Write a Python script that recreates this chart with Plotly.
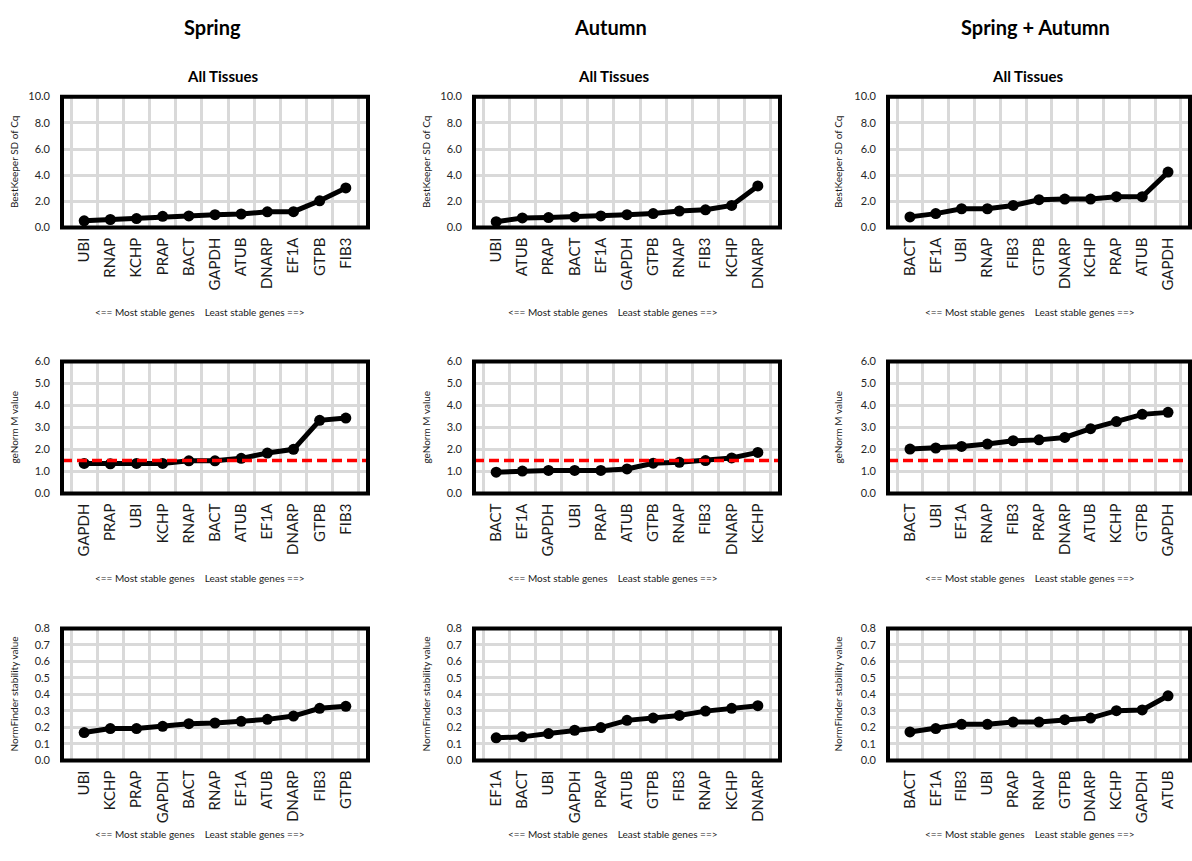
import plotly.graph_objects as go

W, H = 1192, 861

# ---------------- data ----------------
season_titles = ["Spring", "Autumn", "Spring + Autumn"]
subtitle = "All Tissues"

bk_spring_genes = ["UBI", "RNAP", "KCHP", "PRAP", "BACT", "GAPDH", "ATUB", "DNARP", "EF1A", "GTPB", "FIB3"]
bk_spring_vals = [0.52, 0.62, 0.69, 0.86, 0.89, 0.99, 1.04, 1.21, 1.22, 2.05, 3.03]

bk_autumn_genes = ["UBI", "ATUB", "PRAP", "BACT", "EF1A", "GAPDH", "GTPB", "RNAP", "FIB3", "KCHP", "DNARP"]
bk_autumn_vals = [0.45, 0.74, 0.77, 0.82, 0.89, 0.99, 1.07, 1.27, 1.36, 1.69, 3.18]

bk_both_genes = ["BACT", "EF1A", "UBI", "RNAP", "FIB3", "GTPB", "DNARP", "KCHP", "PRAP", "ATUB", "GAPDH"]
bk_both_vals = [0.82, 1.07, 1.44, 1.44, 1.69, 2.13, 2.18, 2.18, 2.36, 2.36, 4.24]

gn_spring_genes = ["GAPDH", "PRAP", "UBI", "KCHP", "RNAP", "BACT", "ATUB", "EF1A", "DNARP", "GTPB", "FIB3"]
gn_spring_vals = [1.37, 1.35, 1.37, 1.37, 1.49, 1.49, 1.60, 1.84, 2.01, 3.33, 3.43]

gn_autumn_genes = ["BACT", "EF1A", "GAPDH", "UBI", "PRAP", "ATUB", "GTPB", "RNAP", "FIB3", "DNARP", "KCHP"]
gn_autumn_vals = [0.97, 1.02, 1.05, 1.05, 1.05, 1.12, 1.38, 1.42, 1.50, 1.62, 1.87]

gn_both_genes = ["BACT", "UBI", "EF1A", "RNAP", "FIB3", "PRAP", "DNARP", "ATUB", "KCHP", "GTPB", "GAPDH"]
gn_both_vals = [2.02, 2.07, 2.14, 2.25, 2.40, 2.44, 2.55, 2.95, 3.27, 3.60, 3.69]

gn_threshold = 1.5

nf_spring_genes = ["UBI", "KCHP", "PRAP", "GAPDH", "BACT", "RNAP", "EF1A", "ATUB", "DNARP", "FIB3", "GTPB"]
nf_spring_vals = [0.169, 0.193, 0.193, 0.207, 0.223, 0.227, 0.237, 0.249, 0.269, 0.316, 0.328]

nf_autumn_genes = ["EF1A", "BACT", "UBI", "GAPDH", "PRAP", "ATUB", "GTPB", "FIB3", "RNAP", "KCHP", "DNARP"]
nf_autumn_vals = [0.137, 0.143, 0.163, 0.183, 0.199, 0.243, 0.257, 0.273, 0.299, 0.316, 0.332]

nf_both_genes = ["BACT", "EF1A", "FIB3", "UBI", "PRAP", "RNAP", "GTPB", "DNARP", "KCHP", "GAPDH", "ATUB"]
nf_both_vals = [0.173, 0.193, 0.219, 0.219, 0.233, 0.233, 0.247, 0.257, 0.302, 0.306, 0.392]

row_ytitles = ["BestKeeper SD of Cq", "geNorm M value", "NormFinder stability value"]
row_yranges = [(0, 10), (0, 6), (0, 0.8)]
row_dticks = [2, 1, 0.1]
bottom_note = "&lt;== Most stable genes\u00a0\u00a0\u00a0\u00a0Least stable genes ==&gt;"

panels = [
    [(bk_spring_genes, bk_spring_vals), (bk_autumn_genes, bk_autumn_vals), (bk_both_genes, bk_both_vals)],
    [(gn_spring_genes, gn_spring_vals), (gn_autumn_genes, gn_autumn_vals), (gn_both_genes, gn_both_vals)],
    [(nf_spring_genes, nf_spring_vals), (nf_autumn_genes, nf_autumn_vals), (nf_both_genes, nf_both_vals)],
]

# ---------------- layout geometry (pixels, border centres) ----------------
col_px = [(62, 368), (474, 780), (888, 1190)]
row_px = [(91, 224), (360, 494), (631, 765)]
ytitle_px = [14, 426, 838]
title_px = [212, 610, 1035]
sub_px = [222, 613, 1027]
note_px = [200, 613, 1030]
note_y = [310, 580, 840]

FONT = "Lato"

def px_x(p):
    return p / W

def px_y(p):
    return 1 - p / H

fig = go.Figure()
annotations = []
shapes = []

idx = 0
for r in range(3):
    for c in range(3):
        idx += 1
        xa = "xaxis" if idx == 1 else f"xaxis{idx}"
        ya = "yaxis" if idx == 1 else f"yaxis{idx}"
        xr = "x" if idx == 1 else f"x{idx}"
        yr = "y" if idx == 1 else f"y{idx}"
        genes, vals = panels[r][c]
        fig.add_trace(go.Scatter(
            x=genes, y=vals, xaxis=xr, yaxis=yr, mode="lines+markers",
            line=dict(color="black", width=5),
            marker=dict(color="black", size=11),
            showlegend=False, hoverinfo="x+y", cliponaxis=False,
        ))
        x0, x1 = col_px[c]
        y0, y1 = row_px[r]
        fig.layout[xa] = dict(
            domain=[px_x(x0), px_x(x1)], anchor=yr, type="category",
            categoryorder="array", categoryarray=genes,
            tickson="boundaries", showgrid=True, gridcolor="#d9d9d9", gridwidth=3,
            showline=False, ticks="", tickangle=-90, ticklabelstandoff=6,
            tickfont=dict(family=FONT, size=15, color="#1a1a1a"),
            zeroline=False, fixedrange=True,
        )
        lo, hi = row_yranges[r]
        fig.layout[ya] = dict(
            domain=[px_y(y1), px_y(y0)], anchor=xr, range=[lo, hi],
            dtick=row_dticks[r], tick0=0, tickformat=".1f",
            showgrid=True, gridcolor="#d9d9d9", gridwidth=3,
            showline=False, ticks="", ticklabelstandoff=11,
            tickfont=dict(family=FONT, size=11, color="#262626"),
            zeroline=False, fixedrange=True,
        )
        if r == 1:
            shapes.append(dict(
                type="line", xref=f"{xr} domain", yref=yr,
                x0=0, x1=1, y0=gn_threshold, y1=gn_threshold,
                line=dict(color="#ff0000", width=3.5, dash="10px,5px"), layer="above",
            ))
        # plot-area border, centred on the edges
        shapes.append(dict(
            type="rect", xref=f"{xr} domain", yref=f"{yr} domain",
            x0=0, x1=1, y0=0, y1=1,
            line=dict(color="black", width=4), fillcolor="rgba(0,0,0,0)", layer="above",
        ))
        # y-axis title
        annotations.append(dict(
            x=px_x(ytitle_px[c]), y=px_y((y0 + y1) / 2), xref="paper", yref="paper",
            text=row_ytitles[r], textangle=-90, showarrow=False,
            font=dict(family=FONT, size=10, color="#1a1a1a"),
            xanchor="center", yanchor="middle",
        ))
        # bottom note
        annotations.append(dict(
            x=px_x(note_px[c]), y=px_y(note_y[r]), xref="paper", yref="paper",
            text=bottom_note, showarrow=False,
            font=dict(family=FONT, size=10, color="#1a1a1a"),
            xanchor="center", yanchor="middle",
        ))

for c in range(3):
    annotations.append(dict(
        x=px_x(title_px[c]), y=px_y(20), xref="paper", yref="paper",
        text=f"<b>{season_titles[c]}</b>", showarrow=False,
        font=dict(family=FONT, size=20, color="black"),
        xanchor="center", yanchor="middle",
    ))
    annotations.append(dict(
        x=px_x(sub_px[c]), y=px_y(70), xref="paper", yref="paper",
        text=f"<b>{subtitle}</b>", showarrow=False,
        font=dict(family=FONT, size=15, color="black"),
        xanchor="center", yanchor="middle",
    ))

fig.update_layout(
    width=W, height=H, margin=dict(l=0, r=0, t=0, b=0),
    paper_bgcolor="white", plot_bgcolor="white",
    annotations=annotations, shapes=shapes,
    font=dict(family=FONT),
)

fig.write_html("out.html")
